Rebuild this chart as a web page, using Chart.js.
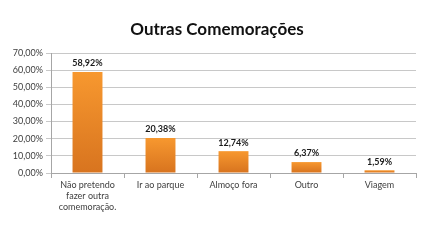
<!DOCTYPE html>
<html><head><meta charset="utf-8">
<script src="https://cdn.jsdelivr.net/npm/chart.js@4"></script>
<style>html,body{margin:0;padding:0;background:#fff}#wrap{width:430px;height:243px}</style>
</head><body><div id="wrap"><canvas id="c" width="430" height="243"></canvas></div>
<script>
const categories = [["Não pretendo","fazer outra","comemoração."],"Ir ao parque","Almoço fora","Outro","Viagem"];
const values = [58.92, 20.38, 12.74, 6.37, 1.59];
const yTicks = [0,10,20,30,40,50,60,70];
const title = "Outras Comemorações";

const fmt = v => v.toFixed(2).replace('.', ',') + '%';
const FONT = "Lato, 'Open Sans', sans-serif";

const labelPlugin = {
  id: 'vlabels',
  beforeDatasetsDraw(chart) {
    const ctx = chart.ctx;
    const meta = chart.getDatasetMeta(0);
    meta.data.forEach((el) => {
      const g = ctx.createLinearGradient(0, el.y, 0, el.base);
      g.addColorStop(0, '#f7982f');
      g.addColorStop(1, '#d8741f');
      el.options = Object.assign({}, el.options, { backgroundColor: g });
    });
  },
  afterDatasetsDraw(chart) {
    const ctx = chart.ctx;
    const meta = chart.getDatasetMeta(0);
    ctx.save();
    ctx.font = "bold 9px " + FONT;
    ctx.fillStyle = "#1a1a1a";
    ctx.textAlign = "center";
    ctx.textBaseline = "bottom";
    meta.data.forEach((el, i) => {
      ctx.fillText(fmt(values[i]), el.x, el.y - 4);
    });
    ctx.restore();
  },
  afterDraw(chart) {
    const ctx = chart.ctx;
    ctx.save();
    ctx.font = "bold 17px " + FONT;
    ctx.fillStyle = "#111";
    ctx.textAlign = "center";
    ctx.textBaseline = "middle";
    ctx.fillText(title, 217, 30);
    ctx.restore();
  }
};

new Chart(document.getElementById('c'), {
  type: 'bar',
  data: {
    labels: categories,
    datasets: [{
      data: values,
      backgroundColor: '#e8842a',
      borderWidth: 0,
      categoryPercentage: 1,
      barPercentage: 0.41
    }]
  },
  options: {
    responsive: false,
    animation: false,
    layout: { padding: { left: 0, right: 14, top: 53, bottom: 0 } },
    plugins: {
      legend: { display: false },
      tooltip: { enabled: false },
      title: { display: false }
    },
    scales: {
      x: {
        offset: true,
        grid: { display: true, drawOnChartArea: false, offset: true, tickLength: 5, color: '#a6a6a6' },
        border: { color: '#a6a6a6' },
        ticks: { color: '#404040', font: { family: FONT, size: 9 }, padding: 2, maxRotation: 0, autoSkip: false },
        afterFit(s) { s.height = 70; }
      },
      y: {
        min: 0, max: 70,
        afterBuildTicks(s) { s.ticks = yTicks.map(v => ({ value: v })); },
        grid: { color: '#c8c8c8', tickLength: 5 },
        border: { color: '#a6a6a6' },
        ticks: { color: '#404040', font: { family: FONT, size: 9 }, padding: 3, callback: v => fmt(v) },
        afterFit(s) { s.width = 51; }
      }
    }
  },
  plugins: [labelPlugin]
});
</script></body></html>
